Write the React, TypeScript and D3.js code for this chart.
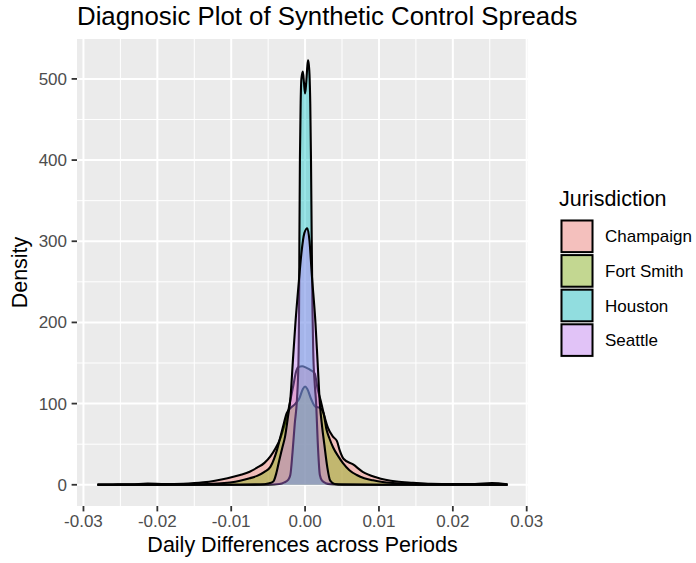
import React from "react";
import * as d3 from "d3";

// ---- data ----
const categories = ["Champaign", "Fort Smith", "Houston", "Seattle"];
const colors = ["#F8766D", "#7CAE00", "#00BFC4", "#C77CFF"];

const champaign: [number, number][] = [
  [-0.0281, 0.3], [-0.026, 0.4], [-0.0235, 0.6], [-0.0213, 1.5], [-0.019, 0.8],
  [-0.0165, 1.2], [-0.015, 2], [-0.0138, 3], [-0.0122, 5], [-0.0105, 8],
  [-0.0088, 12], [-0.0075, 16], [-0.0065, 21], [-0.0055, 27], [-0.0047, 35],
  [-0.004, 45], [-0.0034, 56], [-0.0029, 70], [-0.0024, 86], [-0.002, 104],
  [-0.0016, 122], [-0.0012, 140], [-0.0009, 145], [-0.0004, 146], [0.0002, 144],
  [0.0008, 141], [0.0013, 137], [0.0017, 118], [0.0021, 104], [0.0026, 85],
  [0.0031, 70], [0.0038, 59], [0.0043, 54], [0.0047, 42], [0.0052, 32],
  [0.0065, 25], [0.0078, 16], [0.0097, 9], [0.0124, 4], [0.0146, 2.5],
  [0.017, 1.2], [0.02, 0.8], [0.023, 1], [0.0253, 2], [0.0274, 0.5],
];

const fortSmith: [number, number][] = [
  [-0.0281, 0.1], [-0.02, 0.2], [-0.015, 0.5], [-0.0118, 1.5], [-0.0088, 5],
  [-0.0075, 8], [-0.0065, 11], [-0.0055, 16], [-0.0047, 22], [-0.0042, 32],
  [-0.0038, 43], [-0.0034, 57], [-0.003, 71], [-0.0025, 88], [-0.0019, 95],
  [-0.0013, 100], [-0.0008, 106], [-0.0003, 118], [0.0, 121], [0.0003, 118],
  [0.0008, 106], [0.0014, 96], [0.002, 95], [0.0025, 88], [0.0029, 68],
  [0.0033, 57], [0.0038, 46], [0.0045, 35], [0.0051, 27], [0.006, 18],
  [0.007, 12], [0.008, 8], [0.0092, 5.5], [0.0105, 3.5], [0.0119, 2.2],
  [0.014, 1], [0.018, 0.3], [0.0274, 0.1],
];

const houston: [number, number][] = [
  [-0.0281, 0], [-0.01, 0], [-0.005, 0.2], [-0.0035, 1], [-0.0028, 3],
  [-0.0023, 6], [-0.002, 12], [-0.0017, 40], [-0.0014, 75], [-0.0011, 105],
  [-0.0009, 150], [-0.00082, 210], [-0.00077, 300], [-0.0007, 400], [-0.0006, 470],
  [-0.0005, 500], [-0.0003, 509], [-0.00015, 495], [0.0, 482], [0.00015, 495],
  [0.0003, 515], [0.0004, 523], [0.0005, 518], [0.0006, 505], [0.0007, 470],
  [0.0008, 400], [0.0009, 300], [0.001, 215], [0.0011, 165], [0.0013, 125],
  [0.0015, 100], [0.0017, 55], [0.002, 12], [0.0023, 5], [0.0028, 2],
  [0.0035, 0.8], [0.005, 0.2], [0.01, 0], [0.0274, 0],
];

const seattle: [number, number][] = [
  [-0.0281, 0], [-0.01, 0], [-0.006, 0.3], [-0.005, 1.5], [-0.0043, 4],
  [-0.0039, 14], [-0.0035, 30], [-0.0031, 45], [-0.0027, 60], [-0.0023, 85],
  [-0.002, 105], [-0.0016, 160], [-0.0013, 200], [-0.0008, 255], [-0.0005, 285],
  [-0.0001, 310], [0.0003, 316], [0.0006, 300], [0.0009, 260], [0.0014, 200],
  [0.0017, 150], [0.002, 100], [0.0023, 72], [0.0026, 50], [0.003, 22],
  [0.0034, 5], [0.004, 1], [0.005, 0.3], [0.01, 0], [0.0274, 0],
];

const seriesList = [champaign, fortSmith, houston, seattle];

const xTicks = [-0.03, -0.02, -0.01, 0, 0.01, 0.02, 0.03];
const xTickLabels = ["-0.03", "-0.02", "-0.01", "0.00", "0.01", "0.02", "0.03"];
const yTicks = [0, 100, 200, 300, 400, 500];

const titleText = "Diagnosic Plot of Synthetic Control Spreads";
const xTitle = "Daily Differences across Periods";
const yTitle = "Density";
const legendTitle = "Jurisdiction";

// ---- layout ----
const W = 696;
const H = 563;
const panel = { left: 77, right: 528, top: 39, bottom: 506 };
const FONT = "'Liberation Sans', Arial, Helvetica, sans-serif";

export default function App() {
  const allX = seriesList.flat().map((p) => p[0]);
  const allY = seriesList.flat().map((p) => p[1]);
  const [x0, x1] = d3.extent(allX) as [number, number];
  const [y0, y1] = [0, d3.max(allY) as number];
  const xe = (x1 - x0) * 0.05;
  const ye = (y1 - y0) * 0.05;

  const x = d3.scaleLinear().domain([x0 - xe, x1 + xe]).range([panel.left, panel.right]);
  const y = d3.scaleLinear().domain([y0 - ye, y1 + ye]).range([panel.bottom, panel.top]);

  const area = d3
    .area<[number, number]>()
    .x((d) => x(d[0]))
    .y0(y(0))
    .y1((d) => y(d[1]))
    .curve(d3.curveMonotoneX);
  const line = d3
    .line<[number, number]>()
    .x((d) => x(d[0]))
    .y((d) => y(d[1]))
    .curve(d3.curveMonotoneX);

  const xMinor = d3.range(-0.025, 0.03, 0.01).filter((v) => x(v) > panel.left && x(v) < panel.right);
  const yMinor = d3.range(50, 500, 100);

  const keyX = 560;
  const keyY = 219;
  const keyPitch = 34.6;

  return (
    <svg
      width={W}
      height={H}
      style={{ position: "absolute", left: 0, top: 0, background: "#fff" }}
      fontFamily={FONT}
    >
      <rect x={0} y={0} width={W} height={H} fill="#fff" />
      {/* panel */}
      <rect
        x={panel.left}
        y={panel.top}
        width={panel.right - panel.left}
        height={panel.bottom - panel.top}
        fill="#EBEBEB"
      />
      {xMinor.map((v, i) => (
        <line key={"xm" + i} x1={x(v)} x2={x(v)} y1={panel.top} y2={panel.bottom} stroke="#fff" strokeWidth={1} />
      ))}
      {yMinor.map((v, i) => (
        <line key={"ym" + i} x1={panel.left} x2={panel.right} y1={y(v)} y2={y(v)} stroke="#fff" strokeWidth={1} />
      ))}
      {xTicks.map((v, i) => (
        <line key={"xM" + i} x1={x(v)} x2={x(v)} y1={panel.top} y2={panel.bottom} stroke="#fff" strokeWidth={2} />
      ))}
      {yTicks.map((v, i) => (
        <line key={"yM" + i} x1={panel.left} x2={panel.right} y1={y(v)} y2={y(v)} stroke="#fff" strokeWidth={2} />
      ))}

      {/* densities */}
      <g clipPath="url(#panelClip)">
        {seriesList.map((s, i) => (
          <g key={"s" + i}>
            <path d={area(s) || ""} fill={colors[i]} fillOpacity={0.4} />
            <path d={line(s) || ""} fill="none" stroke="#000" strokeWidth={2.1} strokeLinejoin="round" />
          </g>
        ))}
      </g>
      <defs>
        <clipPath id="panelClip">
          <rect x={panel.left} y={panel.top} width={panel.right - panel.left} height={panel.bottom - panel.top} />
        </clipPath>
      </defs>

      {/* axes */}
      {xTicks.map((v, i) => (
        <g key={"xt" + i}>
          <line x1={x(v)} x2={x(v)} y1={panel.bottom} y2={panel.bottom + 5.4} stroke="#333" strokeWidth={1.8} />
          <text x={x(v)} y={527} textAnchor="middle" fontSize={17} fill="#4D4D4D">
            {xTickLabels[i]}
          </text>
        </g>
      ))}
      {yTicks.map((v, i) => (
        <g key={"yt" + i}>
          <line x1={panel.left - 5.4} x2={panel.left} y1={y(v)} y2={y(v)} stroke="#333" strokeWidth={1.8} />
          <text x={67} y={y(v) + 6} textAnchor="end" fontSize={17} fill="#4D4D4D">
            {v}
          </text>
        </g>
      ))}
      <text x={(panel.left + panel.right) / 2} y={552} textAnchor="middle" fontSize={21.5} fill="#000">
        {xTitle}
      </text>
      <text
        transform={`translate(27,${(panel.top + panel.bottom) / 2}) rotate(-90)`}
        textAnchor="middle"
        fontSize={21.5}
        fill="#000"
      >
        {yTitle}
      </text>
      <text x={panel.left} y={25} fontSize={25.8} fill="#000">
        {titleText}
      </text>

      {/* legend */}
      <text x={559} y={206} fontSize={21.5} fill="#000">
        {legendTitle}
      </text>
      {categories.map((c, i) => (
        <g key={"lg" + i}>
          <rect x={keyX} y={keyY + i * keyPitch} width={34} height={keyPitch} fill="#F2F2F2" />
          <rect
            x={keyX + 1.5}
            y={keyY + i * keyPitch + 1.5}
            width={31}
            height={keyPitch - 3}
            fill={colors[i]}
            fillOpacity={0.4}
            stroke="#000"
            strokeWidth={2}
          />
          <text x={605} y={keyY + i * keyPitch + keyPitch / 2 + 6} fontSize={17} fill="#000">
            {c}
          </text>
        </g>
      ))}
    </svg>
  );
}
